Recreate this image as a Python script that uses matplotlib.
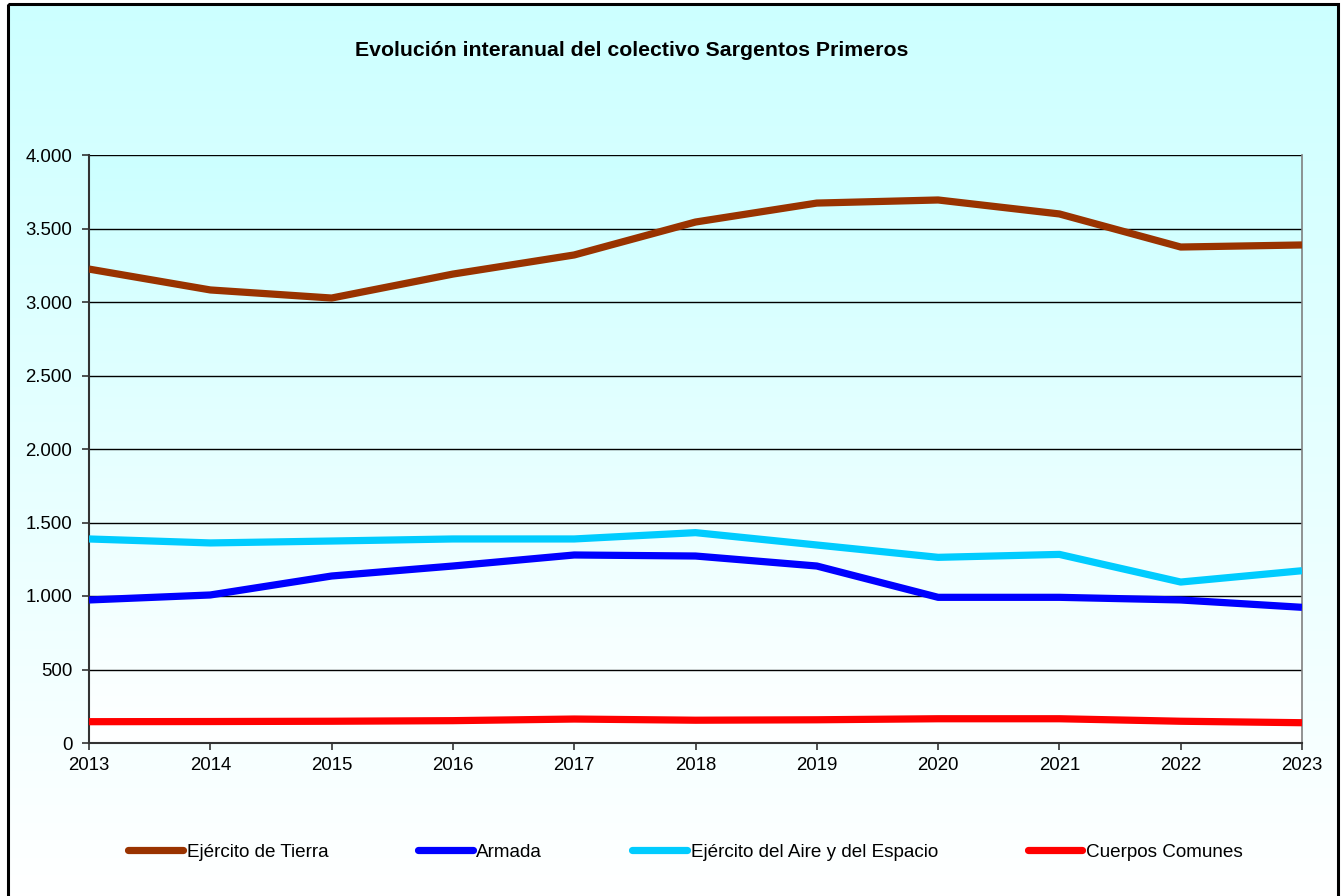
import matplotlib
matplotlib.use("Agg")
import matplotlib.pyplot as plt
import numpy as np
from matplotlib.colors import LinearSegmentedColormap
from matplotlib.patches import Rectangle

plt.rcParams['font.family'] = ['Liberation Sans', 'DejaVu Sans']

years = [2013, 2014, 2015, 2016, 2017, 2018, 2019, 2020, 2021, 2022, 2023]
tierra = [3224, 3082, 3027, 3190, 3320, 3544, 3673, 3694, 3599, 3374, 3388]
armada = [973, 1007, 1136, 1204, 1279, 1272, 1204, 991, 991, 973, 923]
aire = [1388, 1361, 1374, 1388, 1388, 1431, 1347, 1263, 1283, 1095, 1172]
comunes = [145, 146, 148, 152, 163, 155, 158, 165, 165, 148, 138]

series = [
    ("Ejército de Tierra", tierra, "#993300"),
    ("Armada", armada, "#0000FF"),
    ("Ejército del Aire y del Espacio", aire, "#00CCFF"),
    ("Cuerpos Comunes", comunes, "#FF0000"),
]

W, H = 1343, 896
fig = plt.figure(figsize=(W / 100, H / 100), dpi=100)
fig.patch.set_facecolor("white")

grad = LinearSegmentedColormap.from_list("g", ["#FFFFFF", "#CCFFFF"])

# figure background gradient inside the border
bg = fig.add_axes([0, 0, 1, 1], zorder=-2)
bg.set_xlim(0, W)
bg.set_ylim(H, 0)
bg.axis("off")
g = np.linspace(0, 1, 256).reshape(-1, 1)
bg.imshow(g, cmap=grad, aspect="auto", extent=(8, 1338, H, 4), origin="lower",
          vmin=0, vmax=1)
bg.add_patch(Rectangle((8, 4), 1330, H + 10, fill=False, edgecolor="black",
                       linewidth=2.2))

ax = fig.add_axes([89 / W, 1 - 743 / H, (1302 - 89) / W, (743 - 155) / H])
ax.imshow(g, cmap=grad, aspect="auto", extent=(0, 1, 0, 1), origin="lower",
          transform=ax.transAxes, zorder=0, vmin=0, vmax=1)

for name, vals, col in series:
    ax.plot(years, vals, color=col, linewidth=5.2, label=name, zorder=3,
            solid_capstyle="butt")

ax.set_xlim(2013, 2023)
ax.set_ylim(0, 4000)
ax.set_xticks(years)
ax.set_yticks(range(0, 4001, 500))
ax.set_yticklabels([f"{v:,}".replace(",", ".") for v in range(0, 4001, 500)])
ax.yaxis.grid(True, color="black", linewidth=1.0, zorder=1)
ax.set_axisbelow(True)
ax.tick_params(axis="both", labelsize=13.4, length=5, width=1.2, color="#333333")
ax.tick_params(axis="y", pad=7)
ax.tick_params(axis="x", pad=5)
for s in ["left", "bottom"]:
    ax.spines[s].set_color("#333333")
    ax.spines[s].set_linewidth(1.5)
ax.spines["right"].set_color("#808080")
ax.spines["right"].set_linewidth(1.2)
ax.spines["top"].set_visible(False)

fig.text(631.5 / W, 1 - 50 / H, "Evolución interanual del colectivo Sargentos Primeros",
         ha="center", va="center", fontsize=15.3, fontweight="bold")

leg = fig.legend(loc="center left", bbox_to_anchor=(128 / W, 1 - 852 / H),
                 ncol=4, frameon=False, fontsize=13.6, handlelength=2.9,
                 handletextpad=0.2, columnspacing=4.75, borderpad=0,
                 borderaxespad=0)
for h in leg.get_lines():
    h.set_linewidth(5.2)
    h.set_solid_capstyle("round")

fig.savefig("out.png", dpi=100)
